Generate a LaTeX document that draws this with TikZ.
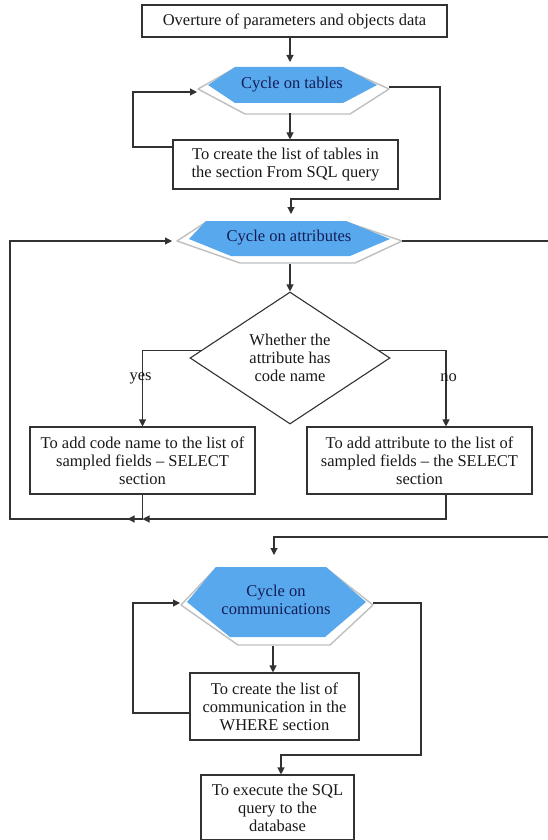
\documentclass[tikz,border=0pt]{standalone}
\usepackage{fontspec}
\setmainfont{Liberation Serif}
\usetikzlibrary{arrows.meta,shapes.geometric}
\definecolor{cycleblue}{RGB}{88,168,238}
\definecolor{cycletext}{RGB}{20,28,85}
\definecolor{wiregray}{RGB}{50,50,50}
\begin{document}
\begin{tikzpicture}[x=1pt,y=-1pt,
  every node/.style={font=\rmfamily\fontsize{16.5}{18}\selectfont, text=black!90},
  box/.style={draw=wiregray, line width=1.1pt, fill=white, inner sep=0pt, align=center},
  wire/.style={draw=wiregray, line width=1.1pt},
  arr/.style={wire, -{Triangle[length=7pt,width=7pt]}},
  hexshadow/.style={fill=white, draw=black!25, line width=1.4pt, line join=round},
  hexface/.style={fill=cycleblue},
  hexlabel/.style={text=cycletext, align=center, inner sep=0pt},
  branchlabel/.style={inner sep=0pt}]

\fill[white] (0,0) rectangle (548,840);
\useasboundingbox (0,0) rectangle (548,840);

% loop heads: light 3-D base under a blue hexagon face
\draw[hexshadow] (198,89) -- (235,68) -- (343,68) -- (389,89) -- (350,114) -- (245,114) -- cycle;
\fill[hexface] (208,85) -- (235,67) -- (343,67) -- (377,85) -- (343,103) -- (235,103) -- cycle;
\node[hexlabel] (h1) at (292,85) {Cycle on tables};

\draw[hexshadow] (177,241) -- (206,222) -- (346,222) -- (402,241) -- (355,263) -- (240,263) -- cycle;
\fill[hexface] (189,239) -- (206,221) -- (346,221) -- (390,239) -- (350,256) -- (231,256) -- cycle;
\node[hexlabel] (h2) at (289,238) {Cycle on attributes};

\draw[hexshadow] (181,605) -- (216,568) -- (326,568) -- (373,605) -- (330,645) -- (238,645) -- cycle;
\fill[hexface] (187,602) -- (216,567) -- (326,567) -- (366,602) -- (325,637) -- (230,637) -- cycle;
\node[hexlabel] (h3) at (276,600) {Cycle on\\communications};

% process boxes
\node[box, minimum width=305pt, minimum height=32pt] (b1) at (294.5,21)
  {Overture of parameters and objects data};
\node[box, minimum width=225pt, minimum height=49pt] (b2) at (285.5,164.5)
  {To create the list of tables in\\the section From SQL query};
\node[draw=wiregray, line width=1.1pt, shape=diamond, aspect=1.5,
  minimum width=200pt, minimum height=132pt, inner sep=0pt, align=center] (d) at (290,358)
  {Whether the\\attribute has\\code name};
\node[box, minimum width=225pt, minimum height=67pt] (lb) at (142.5,460.5)
  {To add code name to the list of\\sampled fields – SELECT\\section};
\node[box, minimum width=225pt, minimum height=67pt] (rb) at (419.5,460.5)
  {To add attribute to the list of\\sampled fields – the SELECT\\section};
\node[box, minimum width=169pt, minimum height=67pt] (b4) at (274.5,706.5)
  {To create the list of\\communication in the\\WHERE section};
\node[box, minimum width=153pt, minimum height=65pt] (b5) at (277.5,807.5)
  {To execute the SQL\\query to the\\database};

% connector end and bend points
\coordinate (h1in) at (290,62);
\coordinate (h1out) at (290,113);
\coordinate (h1L) at (197,92);
\coordinate (h1R) at (389,87);
\coordinate (t1) at (133,147);
\coordinate (c1) at (440,199);
\coordinate (h2in) at (291,214);
\coordinate (h2out) at (290,264);
\coordinate (h2L) at (172,241);
\coordinate (h2R) at (402,241);
\coordinate (rjoin) at (446,519);
\coordinate (leftX) at (10,519);
\coordinate (c2) at (549,537);
\coordinate (h3in) at (274,555);
\coordinate (h3out) at (273,646);
\coordinate (h3L) at (180,603);
\coordinate (h3R) at (373,603);
\coordinate (t3) at (133,713);
\coordinate (c3) at (421,755);
\coordinate (c3b) at (281,755);

% tables loop
\draw[arr] (b1.south -| h1in) -- (h1in);
\draw[arr] (h1out) -- (h1out |- b2.north);
\draw[arr] (b2.west |- t1) -- (t1) |- (h1L);
\draw[arr] (h1R) -| (c1) -| (h2in);

% attributes loop
\draw[arr] (h2out) -- (d.north);
\draw[arr] (d.175) -| (lb.north);
\draw[arr] (d.5) -| (rb.north -| rjoin);
\draw[wire] (lb.south) -- (lb.south |- rjoin);
\draw[arr] (rb.south -| rjoin) -- (rjoin) -- (lb.south |- rjoin);
\draw[arr] (lb.south |- rjoin) -- (leftX) |- (h2L);
\draw[arr] (lb.south |- rjoin) -- ++(-15,0);
\draw[arr] (h2R) -| (c2) -| (h3in);

% communications loop
\draw[arr] (h3out) -- (h3out |- b4.north);
\draw[arr] (b4.west |- t3) -- (t3) |- (h3L);
\draw[arr] (h3R) -| (c3) -- (c3b) -- (c3b |- b5.north);

% branch labels
\node[branchlabel] (yes) at (140.5,378) {yes};
\node[branchlabel] (no) at (448.5,378) {no};
\end{tikzpicture}
\end{document}
